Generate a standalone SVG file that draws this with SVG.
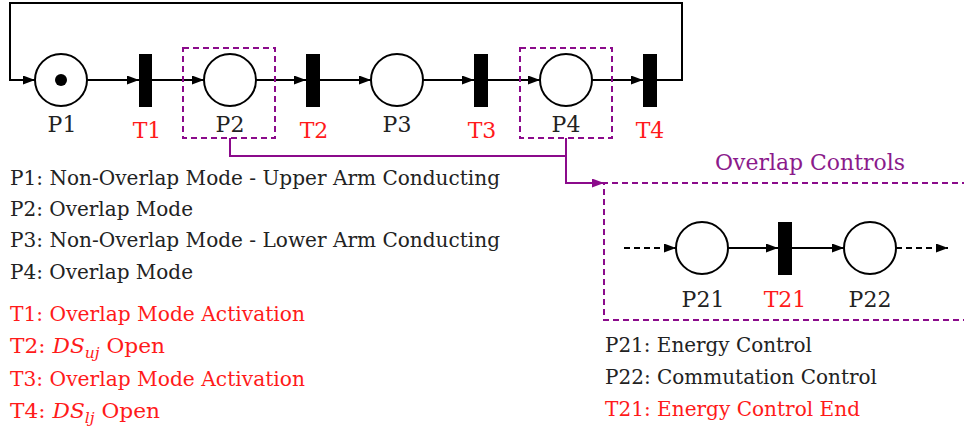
<svg xmlns="http://www.w3.org/2000/svg" width="964" height="428" viewBox="0 0 964 428" font-family="'DejaVu Serif', 'Liberation Serif', serif">
<style>
.bg{fill:#fff}
.place{fill:#fff;stroke:#000;stroke-width:2}
.trans{fill:#000}
.arc{fill:none;stroke:#000;stroke-width:2}
.dash{fill:none;stroke:#000;stroke-width:2;stroke-dasharray:6 4}
.pbox{fill:none;stroke:#8b0a8b;stroke-width:2;stroke-dasharray:6 4}
.plink{fill:none;stroke:#8b0a8b;stroke-width:2}
text{font-family:"DejaVu Serif","Liberation Serif",serif;font-size:21px}
.lbl{fill:#222;text-anchor:middle;font-size:22px}
.rlbl{fill:#ff1a1a;text-anchor:middle;font-size:22px}
.txt{fill:#222}
.rtxt{fill:#ff1a1a}
.ptxt{fill:#8b1a8b;font-size:22px}
</style>
<defs>
<marker id="ah" markerUnits="userSpaceOnUse" markerWidth="13" markerHeight="10" refX="12" refY="4.5" orient="auto"><path d="M0,0 L12,4.5 L0,9 z" fill="#000"/></marker>
<marker id="ahp" markerUnits="userSpaceOnUse" markerWidth="13" markerHeight="10" refX="12" refY="4.5" orient="auto"><path d="M0,0 L12,4.5 L0,9 z" fill="#8b0a8b"/></marker>
</defs>
<rect class="bg" x="0" y="0" width="964" height="428"/>

<g id="connectors">
<path class="arc" d="M657,80 H682 V3 H10 V80 H35" marker-end="url(#ah)"/>
<path class="arc" d="M87,80 H139" marker-end="url(#ah)"/>
<path class="arc" d="M152,80 H204" marker-end="url(#ah)"/>
<path class="arc" d="M256,80 H306" marker-end="url(#ah)"/>
<path class="arc" d="M320,80 H371" marker-end="url(#ah)"/>
<path class="arc" d="M423,80 H474" marker-end="url(#ah)"/>
<path class="arc" d="M488,80 H540" marker-end="url(#ah)"/>
<path class="arc" d="M592,80 H643" marker-end="url(#ah)"/>
<path class="plink" d="M230,138 V156 H566"/>
<path class="plink" d="M566,138 V183 H604" marker-end="url(#ahp)"/>
<path class="dash" d="M624,248 H676" marker-end="url(#ah)"/>
<path class="arc" d="M728,248 H778" marker-end="url(#ah)"/>
<path class="arc" d="M792,248 H844" marker-end="url(#ah)"/>
<path class="dash" d="M896,248 H948" marker-end="url(#ah)"/>
</g>

<g id="box-P2"><rect class="pbox" x="183" y="48" width="92" height="90"/></g>
<g id="box-P4"><rect class="pbox" x="520" y="48" width="92" height="90"/></g>
<g id="overlap-controls">
<path class="pbox" d="M968,183 H604 V320 H968"/>
<text class="ptxt" x="715" y="170" textLength="190" lengthAdjust="spacingAndGlyphs">Overlap Controls</text>
</g>

<g id="P1"><circle class="place" cx="61" cy="80" r="26"/><circle cx="61" cy="80" r="6" fill="#000"/><text class="lbl" x="62" y="132">P1</text></g>
<g id="T1"><rect class="trans" x="139" y="54" width="13" height="53"/><text class="rlbl" x="147" y="138">T1</text></g>
<g id="P2"><circle class="place" cx="230" cy="80" r="26"/><text class="lbl" x="230" y="132">P2</text></g>
<g id="T2"><rect class="trans" x="306" y="54" width="14" height="53"/><text class="rlbl" x="314" y="138">T2</text></g>
<g id="P3"><circle class="place" cx="397" cy="80" r="26"/><text class="lbl" x="397" y="132">P3</text></g>
<g id="T3"><rect class="trans" x="474" y="54" width="14" height="53"/><text class="rlbl" x="482" y="138">T3</text></g>
<g id="P4"><circle class="place" cx="566" cy="80" r="26"/><text class="lbl" x="566" y="132">P4</text></g>
<g id="T4"><rect class="trans" x="643" y="54" width="14" height="53"/><text class="rlbl" x="650" y="138">T4</text></g>

<g id="P21"><circle class="place" cx="702" cy="248" r="26"/><text class="lbl" x="703" y="307">P21</text></g>
<g id="T21"><rect class="trans" x="778" y="222" width="14" height="53"/><text class="rlbl" x="785" y="307">T21</text></g>
<g id="P22"><circle class="place" cx="870" cy="248" r="26"/><text class="lbl" x="870" y="307">P22</text></g>

<g id="legend-places">
<text class="txt" x="10" y="185" textLength="490" lengthAdjust="spacingAndGlyphs">P1: Non-Overlap Mode - Upper Arm Conducting</text>
<text class="txt" x="10" y="216" textLength="183" lengthAdjust="spacingAndGlyphs">P2: Overlap Mode</text>
<text class="txt" x="10" y="247" textLength="490" lengthAdjust="spacingAndGlyphs">P3: Non-Overlap Mode - Lower Arm Conducting</text>
<text class="txt" x="10" y="279" textLength="183" lengthAdjust="spacingAndGlyphs">P4: Overlap Mode</text>
</g>
<g id="legend-transitions">
<text class="rtxt" x="10" y="321" textLength="295" lengthAdjust="spacingAndGlyphs">T1: Overlap Mode Activation</text>
<text class="rtxt" x="10" y="353" textLength="155" lengthAdjust="spacingAndGlyphs">T2: <tspan font-style="italic">DS</tspan><tspan font-style="italic" font-size="15" dy="5">uj</tspan><tspan dy="-5"> Open</tspan></text>
<text class="rtxt" x="10" y="386" textLength="295" lengthAdjust="spacingAndGlyphs">T3: Overlap Mode Activation</text>
<text class="rtxt" x="10" y="418" textLength="150" lengthAdjust="spacingAndGlyphs">T4: <tspan font-style="italic">DS</tspan><tspan font-style="italic" font-size="15" dy="5">lj</tspan><tspan dy="-5"> Open</tspan></text>
</g>
<g id="legend-controls">
<text class="txt" x="605" y="352" textLength="207" lengthAdjust="spacingAndGlyphs">P21: Energy Control</text>
<text class="txt" x="605" y="384" textLength="272" lengthAdjust="spacingAndGlyphs">P22: Commutation Control</text>
<text class="rtxt" x="605" y="416" textLength="255" lengthAdjust="spacingAndGlyphs">T21: Energy Control End</text>
</g>
</svg>
